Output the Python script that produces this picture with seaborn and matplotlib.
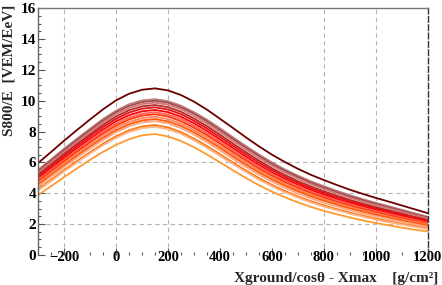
import numpy as np
import pandas as pd
import matplotlib
matplotlib.use('Agg')
import matplotlib.pyplot as plt
import seaborn as sns
from matplotlib.ticker import MultipleLocator

# Profundidad (Xground/cos(theta) - Xmax) en g/cm2, paso de 50
x_depth = [-300, -250, -200, -150, -100, -50, 0, 50, 100, 150, 200, 250, 300, 350, 400, 450,
           500, 550, 600, 650, 700, 750, 800, 850, 900, 950, 1000, 1050, 1100, 1150, 1200]

c01 = [5.95, 6.67, 7.40, 8.10, 8.78, 9.44, 10.02, 10.45, 10.71, 10.80, 10.67, 10.37, 9.94, 9.42, 8.83, 8.23,
       7.62, 7.04, 6.50, 6.02, 5.58, 5.19, 4.85, 4.53, 4.22, 3.95, 3.69, 3.45, 3.20, 2.95, 2.70]
c02 = [5.51, 6.19, 6.88, 7.54, 8.18, 8.81, 9.35, 9.77, 10.02, 10.10, 9.97, 9.68, 9.26, 8.77, 8.21, 7.63,
       7.06, 6.51, 6.00, 5.54, 5.14, 4.77, 4.45, 4.15, 3.87, 3.61, 3.37, 3.15, 2.92, 2.69, 2.47]
c03 = [5.42, 6.11, 6.79, 7.45, 8.09, 8.71, 9.25, 9.66, 9.91, 10.00, 9.87, 9.57, 9.16, 8.66, 8.10, 7.53,
       6.95, 6.41, 5.90, 5.45, 5.05, 4.68, 4.36, 4.06, 3.79, 3.54, 3.30, 3.08, 2.85, 2.63, 2.41]
c04 = [5.32, 6.00, 6.68, 7.34, 7.97, 8.58, 9.12, 9.53, 9.78, 9.87, 9.74, 9.44, 9.02, 8.52, 7.97, 7.40,
       6.83, 6.29, 5.79, 5.34, 4.94, 4.58, 4.27, 3.97, 3.70, 3.45, 3.22, 3.00, 2.78, 2.57, 2.35]
c05 = [5.19, 5.86, 6.54, 7.19, 7.82, 8.43, 8.97, 9.38, 9.63, 9.72, 9.58, 9.28, 8.85, 8.35, 7.80, 7.22,
       6.66, 6.12, 5.62, 5.18, 4.78, 4.43, 4.12, 3.83, 3.56, 3.32, 3.09, 2.88, 2.67, 2.46, 2.26]
c06 = [5.08, 5.75, 6.41, 7.06, 7.69, 8.29, 8.82, 9.23, 9.48, 9.57, 9.43, 9.13, 8.70, 8.20, 7.65, 7.08,
       6.52, 5.99, 5.50, 5.06, 4.67, 4.32, 4.01, 3.73, 3.47, 3.23, 3.01, 2.80, 2.60, 2.40, 2.20]
c07 = [4.96, 5.62, 6.28, 6.92, 7.54, 8.13, 8.66, 9.06, 9.31, 9.40, 9.26, 8.96, 8.54, 8.04, 7.49, 6.93,
       6.37, 5.84, 5.36, 4.93, 4.55, 4.21, 3.90, 3.62, 3.37, 3.14, 2.92, 2.71, 2.52, 2.32, 2.13]
c08 = [4.86, 5.51, 6.16, 6.80, 7.41, 7.99, 8.51, 8.91, 9.16, 9.25, 9.11, 8.81, 8.39, 7.89, 7.35, 6.79,
       6.24, 5.72, 5.24, 4.82, 4.44, 4.10, 3.80, 3.53, 3.28, 3.05, 2.84, 2.64, 2.44, 2.26, 2.07]
c09 = [4.76, 5.41, 6.06, 6.69, 7.29, 7.87, 8.38, 8.78, 9.03, 9.12, 8.98, 8.67, 8.25, 7.76, 7.22, 6.66,
       6.12, 5.60, 5.13, 4.71, 4.34, 4.00, 3.71, 3.44, 3.19, 2.97, 2.76, 2.56, 2.38, 2.19, 2.02]
c10 = [4.65, 5.29, 5.93, 6.55, 7.15, 7.72, 8.23, 8.62, 8.87, 8.96, 8.81, 8.51, 8.10, 7.61, 7.07, 6.52,
       5.98, 5.47, 5.01, 4.59, 4.22, 3.90, 3.60, 3.34, 3.10, 2.88, 2.68, 2.48, 2.30, 2.13, 1.95]
c11 = [4.55, 5.18, 5.81, 6.43, 7.02, 7.58, 8.08, 8.47, 8.72, 8.81, 8.66, 8.36, 7.95, 7.46, 6.93, 6.38,
       5.84, 5.34, 4.89, 4.48, 4.12, 3.79, 3.51, 3.25, 3.01, 2.80, 2.60, 2.41, 2.23, 2.06, 1.90]
c12 = [4.43, 5.06, 5.69, 6.30, 6.89, 7.45, 7.95, 8.34, 8.59, 8.68, 8.53, 8.22, 7.80, 7.31, 6.78, 6.23,
       5.70, 5.20, 4.75, 4.34, 3.98, 3.66, 3.38, 3.13, 2.90, 2.69, 2.49, 2.31, 2.14, 1.97, 1.82]
c13 = [4.25, 4.87, 5.49, 6.09, 6.66, 7.21, 7.69, 8.08, 8.33, 8.42, 8.27, 7.96, 7.54, 7.06, 6.53, 5.99,
       5.47, 4.98, 4.54, 4.14, 3.79, 3.48, 3.21, 2.96, 2.74, 2.54, 2.35, 2.17, 2.01, 1.86, 1.71]
c14 = [4.17, 4.78, 5.40, 5.99, 6.57, 7.11, 7.59, 7.97, 8.22, 8.31, 8.15, 7.85, 7.43, 6.95, 6.42, 5.89,
       5.37, 4.88, 4.45, 4.06, 3.71, 3.40, 3.13, 2.89, 2.67, 2.47, 2.28, 2.11, 1.96, 1.81, 1.67]
c15 = [3.87, 4.45, 5.04, 5.61, 6.16, 6.68, 7.13, 7.50, 7.75, 7.84, 7.68, 7.39, 6.98, 6.51, 6.00, 5.48,
       4.98, 4.52, 4.10, 3.73, 3.40, 3.11, 2.85, 2.63, 2.42, 2.23, 2.06, 1.91, 1.76, 1.63, 1.51]

colores = ['#6b0000', '#bb8080', '#a24a4a', '#d07878', '#b52a2a', '#e01414',
           '#ff0000', '#ff6262', '#ff3a00', '#ff8466', '#ff5a08', '#ffa482',
           '#ff7510', '#ffb488', '#ff9a30']

grid_x = [-200, 0, 200, 800, 1000]
grid_y = [2, 4, 6]

curvas = [c01, c02, c03, c04, c05, c06, c07, c08, c09, c10, c11, c12, c13, c14, c15]
df = pd.concat([pd.DataFrame({'x': x_depth, 's800': c, 'curva': f'c{i + 1:02d}'})
                for i, c in enumerate(curvas)], ignore_index=True)

sns.set_theme(style="white")
plt.rcParams['font.family'] = ['Liberation Serif', 'DejaVu Serif']

fig = plt.figure(figsize=(4.42, 2.85), dpi=100)
ax = fig.add_axes([0.086, 0.106, 0.882, 0.865])

# rejilla punteada (solo algunas lineas visibles en el original)
for gx in grid_x:
    ax.axvline(gx, color='#b4b4b4', lw=0.8, ls=(0, (4, 3)), zorder=0)
for gy in grid_y:
    ax.axhline(gy, color='#b4b4b4', lw=0.8, ls=(0, (4, 3)), zorder=0)

sns.lineplot(data=df, x='x', y='s800', hue='curva', palette=colores,
             lw=1.3, legend=False, sort=False, ax=ax)

ax.set_xlim(-300, 1200)
ax.set_ylim(0, 16)
ax.xaxis.set_major_locator(MultipleLocator(200))
ax.xaxis.set_minor_locator(MultipleLocator(50))
ax.yaxis.set_major_locator(MultipleLocator(2))
ax.yaxis.set_minor_locator(MultipleLocator(0.5))
ax.tick_params(which='both', direction='in', bottom=True, left=True,
               top=False, right=False, colors='#555555', labelcolor='black')
ax.tick_params(which='major', length=5, width=0.8)
ax.tick_params(which='minor', length=2.5, width=0.8)
ax.tick_params(axis='x', pad=-2.5, labelsize=10.5)
ax.tick_params(axis='y', pad=1.5, labelsize=11)
for lab in ax.get_xticklabels() + ax.get_yticklabels():
    lab.set_fontweight('bold')

ax.spines['bottom'].set_visible(False)
ax.spines['left'].set_color('#666666')
ax.spines['top'].set_color('#777777')
ax.spines['right'].set_color('#333333')
ax.spines['right'].set_linestyle((0, (4, 2)))
for sp in ax.spines.values():
    sp.set_linewidth(1.0)

ax.set_xlabel('')
ax.set_ylabel('')
fig.text(0.991, 0.0, 'Xground/cos\u03b8 - Xmax    [g/cm\u00b2]', ha='right', va='bottom',
         fontsize=11, fontweight='bold')
fig.text(0.006, 0.985, 'S800/E  [VEM/EeV]', rotation=90, ha='left', va='top',
         fontsize=11, fontweight='bold')

fig.savefig('out.png', dpi=100)
